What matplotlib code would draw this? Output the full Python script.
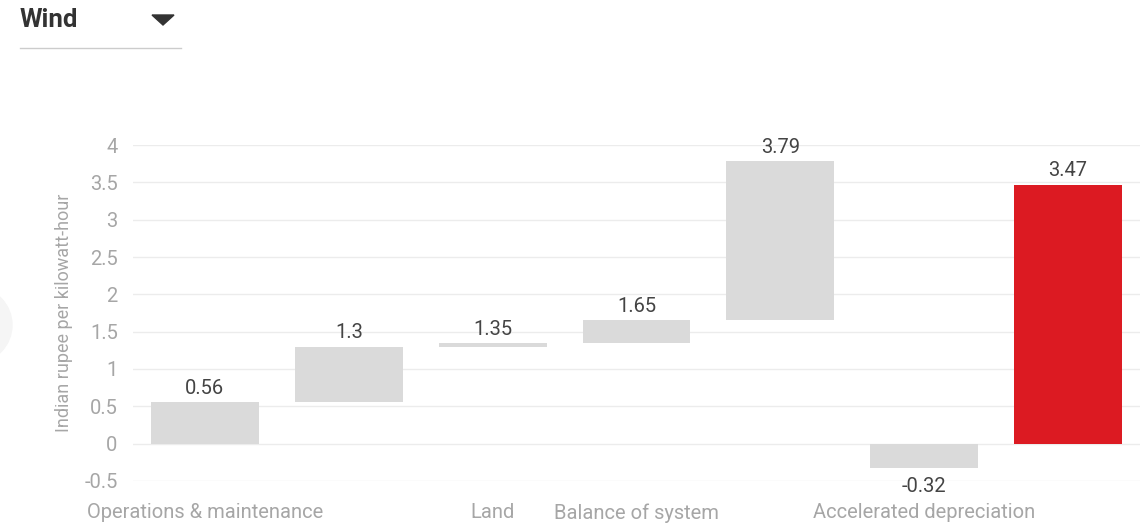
import matplotlib
matplotlib.use('Agg')
import matplotlib.pyplot as plt
from matplotlib.patches import Circle, Polygon

plt.rcParams['font.family'] = ['Roboto', 'DejaVu Sans']

# cost build-up for wind power, rupee per kWh
categories = ['Operations & maintenance', '', 'Land', 'Balance of system',
              '', 'Accelerated depreciation', '']
bar_low = [0, 0.56, 1.3, 1.35, 1.65, 0, 0]
bar_high = [0.56, 1.3, 1.35, 1.65, 3.79, -0.32, 3.47]
value_labels = ['0.56', '1.3', '1.35', '1.65', '3.79', '-0.32', '3.47']
y_ticks = [-0.5, 0, 0.5, 1, 1.5, 2, 2.5, 3, 3.5, 4]

GREY = '#dadada'
RED = '#dc1a22'
colors = [GREY] * 6 + [RED]

fig = plt.figure(figsize=(11.45, 5.25), dpi=100)
ax = fig.add_axes([133 / 1145, 1 - 481 / 525, 1007 / 1145, 336 / 525])

x = range(len(categories))
heights = [h - l for l, h in zip(bar_low, bar_high)]
ax.bar(x, heights, bottom=bar_low, width=0.75, color=colors, zorder=2)

for i, (l, h, txt) in enumerate(zip(bar_low, bar_high, value_labels)):
    if h >= l:
        ax.annotate(txt, (i, h), xytext=(0, 3), textcoords='offset points',
                    ha='center', va='bottom', fontsize=14.5, color='#444444')
    else:
        ax.annotate(txt, (i, h), xytext=(0, -7), textcoords='offset points',
                    ha='center', va='top', fontsize=14.5, color='#444444')

ax.set_xlim(-0.5, 6.5)
ax.set_ylim(-0.5, 4)
ax.set_yticks(y_ticks)
ax.set_yticklabels([f'{t:g}' for t in y_ticks])
ax.set_xticks(list(x))
ax.set_xticklabels(categories)
ax.grid(axis='y', color='#ececec', linewidth=1, zorder=0)
for s in ax.spines.values():
    s.set_visible(False)
ax.tick_params(axis='both', length=0, labelsize=14.5, colors='#a6a6a6')
ax.tick_params(axis='y', pad=11)
ax.tick_params(axis='x', pad=16)
ax.set_ylabel('Indian rupee per kilowatt-hour', fontsize=13, color='#a6a6a6', labelpad=8)

# dropdown header
fig.text(20 / 1145, 1 - 20 / 525, 'Wind', fontsize=18.5, fontweight='bold',
         color='#333333', ha='left', va='center')
fig.add_artist(Polygon([[152 / 1145, 1 - 15 / 525], [174 / 1145, 1 - 15 / 525],
                        [163 / 1145, 1 - 25 / 525]], closed=True,
                       transform=fig.transFigure, color='#333333'))
fig.add_artist(plt.Line2D([20 / 1145, 181 / 1145], [1 - 48 / 525, 1 - 48 / 525],
                          transform=fig.transFigure, color='#cccccc', linewidth=1))

# faint round button peeking in at the left edge
fig.add_artist(Circle((-26, 200), 38, transform=None, color='#f5f5f5', zorder=-1))

fig.savefig('out.png', dpi=100)
